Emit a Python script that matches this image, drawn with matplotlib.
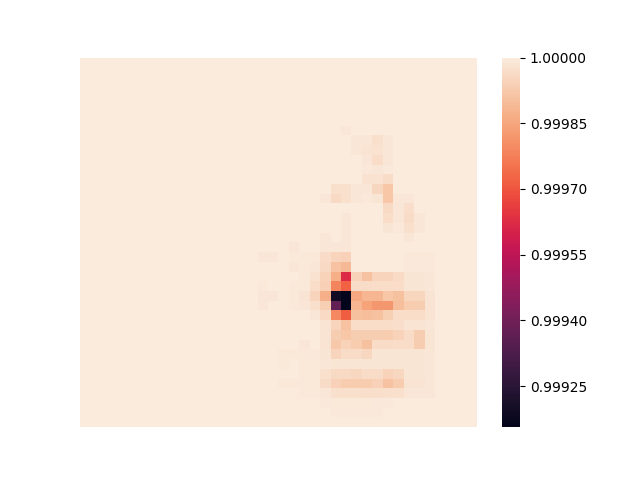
import numpy as np
import matplotlib
matplotlib.use("Agg")
import matplotlib.pyplot as plt
import seaborn as sns

N_ROWS = 38
N_COLS = 38
BASE_VALUE = 1.0
SCALE = 1e-6  # deficits below 1.0, in millionths

# sparse cells: (col, deficit in millionths) per row; every other cell equals 1.0
row_cells = {
    7:  [(25, 13)],
    8:  [(26, 10), (27, 10), (28, 26), (29, 10)],
    9:  [(26, 10), (27, 18), (28, 22), (29, 10)],
    10: [(27, 10), (28, 32), (29, 12)],
    11: [(27, 6), (28, 10), (29, 6)],
    12: [(27, 20), (28, 22), (29, 36)],
    13: [(24, 25), (25, 26), (26, 12), (27, 10), (28, 45), (29, 80)],
    14: [(23, 12), (24, 42), (25, 24), (26, 12), (27, 6), (28, 14), (29, 80), (30, 12), (31, 12)],
    15: [(29, 40), (30, 12), (31, 27)],
    16: [(25, 12), (29, 30), (30, 12), (31, 36), (32, 12)],
    17: [(25, 12), (29, 16), (30, 6), (31, 25), (32, 12)],
    18: [(23, 12), (25, 12), (31, 12)],
    19: [(20, 10), (23, 10), (24, 10), (25, 10)],
    20: [(17, 10), (18, 10), (20, 8), (21, 8), (22, 8), (23, 34), (24, 50), (25, 58),
         (31, 8), (32, 8), (33, 8)],
    21: [(20, 10), (21, 8), (22, 12), (23, 42), (24, 92), (25, 110), (31, 6), (32, 6), (33, 6)],
    22: [(21, 8), (22, 22), (23, 55), (24, 135), (25, 380), (26, 55), (27, 92), (28, 52),
         (29, 52), (30, 38), (31, 15), (32, 15), (33, 12)],
    23: [(17, 8), (20, 8), (21, 8), (22, 32), (23, 62), (24, 215), (25, 280), (26, 35),
         (27, 35), (28, 32), (29, 30), (30, 30), (31, 15), (32, 15), (33, 10)],
    24: [(17, 10), (18, 10), (20, 8), (21, 18), (22, 52), (23, 130), (24, 805), (25, 835),
         (26, 143), (27, 118), (28, 118), (29, 80), (30, 95), (31, 48), (32, 48), (33, 18)],
    25: [(17, 10), (20, 8), (21, 12), (22, 24), (23, 65), (24, 630), (25, 844), (26, 118),
         (27, 155), (28, 180), (29, 180), (30, 100), (31, 72), (32, 66), (33, 18)],
    26: [(22, 12), (23, 38), (24, 210), (25, 285), (26, 95), (27, 102), (28, 95), (29, 64),
         (30, 32), (31, 32), (32, 32), (33, 18)],
    27: [(23, 18), (24, 50), (25, 90), (26, 32), (27, 32), (28, 30), (29, 30), (30, 28),
         (31, 18), (32, 18), (33, 12)],
    28: [(23, 18), (24, 66), (25, 82), (26, 66), (27, 66), (28, 66), (29, 72), (30, 56),
         (31, 34), (32, 68), (33, 14)],
    29: [(21, 10), (23, 18), (24, 76), (25, 56), (26, 72), (27, 95), (28, 34), (29, 34),
         (30, 30), (31, 30), (32, 68), (33, 14)],
    30: [(19, 8), (20, 8), (21, 8), (22, 5), (23, 14), (24, 50), (25, 36), (26, 36), (27, 45),
         (28, 16), (29, 16), (30, 16), (31, 16), (32, 16), (33, 10)],
    31: [(19, 8), (21, 8), (22, 8), (23, 12), (24, 14), (25, 14), (26, 14), (27, 14), (28, 14),
         (29, 14), (30, 14), (31, 14), (32, 14), (33, 10)],
    32: [(21, 8), (22, 8), (23, 26), (24, 42), (25, 42), (26, 46), (27, 36), (28, 36), (29, 56),
         (30, 45), (31, 15), (32, 15), (33, 10)],
    33: [(19, 8), (20, 8), (21, 8), (22, 8), (23, 36), (24, 58), (25, 70), (26, 70), (27, 70),
         (28, 58), (29, 90), (30, 70), (31, 18), (32, 18), (33, 10)],
    34: [(21, 8), (22, 8), (23, 10), (24, 25), (25, 25), (26, 25), (27, 28), (28, 28), (29, 25),
         (30, 25), (31, 12), (32, 12), (33, 10)],
    35: [(23, 6), (24, 8), (25, 8), (26, 8), (27, 8), (28, 6), (29, 6)],
    36: [(24, 6), (25, 6), (26, 6), (27, 6), (28, 6)],
}

cbar_ticks = [0.99925, 0.99940, 0.99955, 0.99970, 0.99985, 1.00000]

cell_rows, cell_cols, cell_deficits = [], [], []
for r, cells in row_cells.items():
    for c, d in cells:
        cell_rows.append(r)
        cell_cols.append(c)
        cell_deficits.append(d)

data = np.full((N_ROWS, N_COLS), BASE_VALUE)
for r, c, d in zip(cell_rows, cell_cols, cell_deficits):
    data[r, c] = BASE_VALUE - d * SCALE

fig = plt.figure(figsize=(6.4, 4.8), dpi=100)
ax = sns.heatmap(data, xticklabels=False, yticklabels=False,
                 cbar_kws={"ticks": cbar_ticks, "format": "%.5f"})
fig.savefig("out.png", dpi=100)
